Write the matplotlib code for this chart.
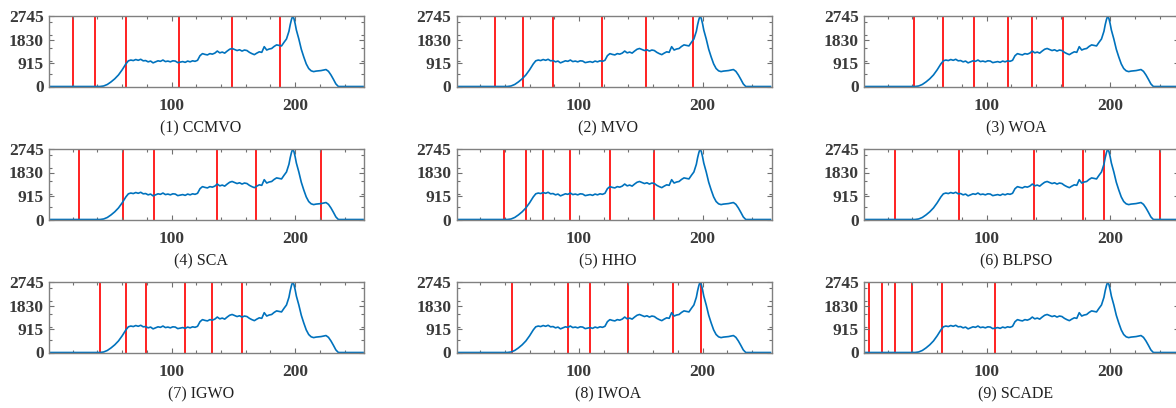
import numpy as np
import matplotlib.pyplot as plt
from matplotlib.ticker import MultipleLocator, FixedLocator

# gray level histogram
levels = [0, 42, 45, 48, 51, 54, 57, 60, 63, 65, 67, 69, 71, 73, 75, 77, 79, 81, 83, 85,
          87, 89, 91, 93, 95, 97, 99, 101, 103, 105, 107, 109, 111, 113, 115, 117, 119,
          121, 123, 125, 127, 129, 131, 133, 135, 137, 139, 141, 143, 145, 147, 149, 151,
          153, 155, 157, 159, 161, 163, 165, 167, 169, 171, 173, 175, 177, 179, 181, 183,
          185, 187, 189, 191, 193, 195, 196, 197, 198, 199, 200, 201, 203, 205, 207, 209,
          211, 213, 215, 217, 219, 221, 223, 225, 227, 229, 231, 233, 235, 255]
counts = [0, 0, 20, 80, 180, 300, 450, 650, 880, 1000, 1030, 1010, 1050, 1020, 1060, 1000,
          1010, 960, 990, 920, 960, 1000, 980, 1030, 970, 990, 960, 1000, 990, 930, 950, 970,
          940, 990, 960, 1000, 980, 1020, 1200, 1280, 1250, 1230, 1280, 1260, 1300, 1380,
          1310, 1340, 1300, 1380, 1450, 1480, 1440, 1400, 1430, 1380, 1420, 1400, 1330, 1280,
          1240, 1300, 1350, 1330, 1550, 1420, 1460, 1480, 1560, 1620, 1600, 1580, 1720, 1850,
          2150, 2400, 2600, 2745, 2650, 2450, 2200, 1850, 1450, 1150, 880, 700, 610, 580, 600,
          610, 620, 640, 660, 590, 450, 280, 100, 0, 0]

names = ["(1) CCMVO", "(2) MVO", "(3) WOA",
         "(4) SCA", "(5) HHO", "(6) BLPSO",
         "(7) IGWO", "(8) IWOA", "(9) SCADE"]

thresholds = [
    [20, 38, 63, 106, 149, 188],
    [32, 55, 79, 119, 154, 192],
    [41, 65, 90, 117, 137, 162],
    [25, 61, 86, 137, 168, 221],
    [39, 57, 71, 93, 125, 161],
    [26, 78, 138, 178, 195, 240],
    [42, 63, 79, 111, 133, 157],
    [46, 91, 109, 140, 176, 199],
    [5, 15, 26, 40, 64, 107],
]

y_ticks = [0, 915, 1830, 2745]
x_ticks = [100, 200]

W, H = 1176, 408
fig = plt.figure(figsize=(W / 100, H / 100), dpi=100)

col_left = [49.3, 456.7, 864.3]
row_top = [16, 149, 282]
ax_w, ax_h = 315, 70.5

for i in range(9):
    r, c = divmod(i, 3)
    left = col_left[c]
    top = row_top[r]
    ax = fig.add_axes([left / W, 1 - (top + ax_h) / H, ax_w / W, ax_h / H])

    for t in thresholds[i]:
        ax.axvline(t, color="#ff2020", lw=1.4, zorder=1)
    ax.plot(levels, counts, color="#0072BD", lw=1.2, zorder=2)

    ax.set_xlim(1, 256)
    ax.set_ylim(0, 2745)
    ax.xaxis.set_major_locator(FixedLocator(x_ticks))
    ax.yaxis.set_major_locator(FixedLocator(y_ticks))
    ax.xaxis.set_minor_locator(MultipleLocator(20))
    ax.yaxis.set_minor_locator(MultipleLocator(500))
    ax.tick_params(which="both", direction="in", top=True, right=True,
                   color="#707070", width=0.8)
    ax.tick_params(axis="x", which="major", length=3.5, pad=8.5)
    ax.tick_params(axis="y", which="major", length=3.5, pad=4)
    ax.tick_params(which="minor", length=2)
    for lab in ax.get_xticklabels() + ax.get_yticklabels():
        lab.set_fontfamily("Liberation Serif")
        lab.set_fontweight("bold")
        lab.set_fontsize(12.5)
        lab.set_color("#3a3a3a")
    for sp in ax.spines.values():
        sp.set_color("#808080")
        sp.set_linewidth(1.0)

    fig.text((left + ax_w / 2 - 6) / W, 1 - (top + 112.5) / H, names[i],
             ha="center", va="center", fontsize=11.5, family="Liberation Serif",
             color="#202020")

fig.savefig("out.png", dpi=100)
